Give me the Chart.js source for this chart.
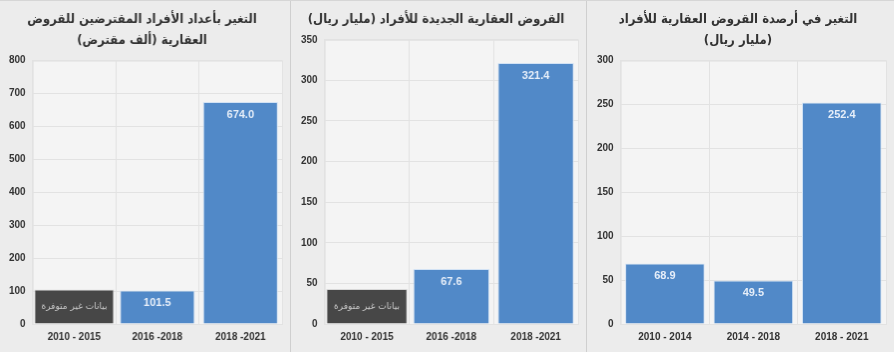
<!DOCTYPE html>
<html>
<head>
  <title>Real estate loans</title>
  <style>
    body { margin: 0; background: #ececec; }
    #wrap { position: relative; width: 894px; height: 352px; border-top: 1px solid #d6d6d6; box-sizing: border-box; }
    canvas { position: absolute; top: 0; }
    #c1 { left: 0; border-right: 1px solid #cfcfcf; }
    #c2 { left: 292px; border-right: 1px solid #cfcfcf; }
    #c3 { left: 588px; }
  </style>
</head>
<body>
  <div id="wrap">
    <canvas id="c1" width="291" height="351"></canvas>
    <canvas id="c2" width="295" height="351"></canvas>
    <canvas id="c3" width="306" height="351"></canvas>
  </div>
  <script src="https://cdn.jsdelivr.net/npm/chart.js@4.4.0/dist/chart.umd.min.js"></script>

  <script>
    // panel 1: borrowers (thousand)
    let labels1 = ['2010 - 2015', '2016 -2018', '2018 -2021'];
    let values1 = [null, 101.5, 674.0];
    let missing1 = [105, null, null];
    let title1 = ['التغير بأعداد الأفراد المقترضين للقروض', 'العقارية (ألف مقترض)'];

    // panel 2: new loans (billion riyal)
    let labels2 = ['2010 - 2015', '2016 -2018', '2018 -2021'];
    let values2 = [null, 67.6, 321.4];
    let missing2 = [43, null, null];
    let title2 = ['القروض العقارية الجديدة للأفراد (مليار ريال)'];

    // panel 3: balances (billion riyal)
    let labels3 = ['2010 - 2014', '2014 - 2018', '2018 - 2021'];
    let values3 = [68.9, 49.5, 252.4];
    let missing3 = [null, null, null];
    let title3 = ['التغير في أرصدة القروض العقارية للأفراد', '(مليار ريال)'];

    let missingText = 'بيانات غير متوفرة';

    let rtl = s => '\u202B' + s + '\u202C';
    let ltr = s => '\u202A' + s + '\u202C';

    let areaBg = {
      id: 'areaBg',
      beforeDraw(chart) {
        let a = chart.chartArea;
        let ctx = chart.ctx;
        ctx.save();
        ctx.fillStyle = '#f4f4f4';
        ctx.fillRect(a.left, a.top, a.right - a.left, a.bottom - a.top);
        ctx.strokeStyle = '#e2e2e2';
        ctx.strokeRect(a.left + 0.5, a.top + 0.5, a.right - a.left, a.bottom - a.top);
        ctx.restore();
      }
    };

    let barText = {
      id: 'barText',
      afterDatasetsDraw(chart) {
        let ctx = chart.ctx;
        ctx.save();
        ctx.textAlign = 'center';
        chart.data.datasets.forEach((ds, i) => {
          let meta = chart.getDatasetMeta(i);
          meta.data.forEach((bar, j) => {
            if (ds.data[j] == null) return;
            if (ds.isMissing) {
              ctx.fillStyle = '#c8c8c8';
              ctx.font = '9px "DejaVu Sans"';
              ctx.textBaseline = 'middle';
              ctx.fillText(rtl(missingText), bar.x, (bar.y + bar.base) / 2);
            } else {
              ctx.fillStyle = '#e6eef9';
              ctx.font = 'bold 11px "Liberation Sans"';
              ctx.textBaseline = 'top';
              ctx.fillText(ds.data[j].toFixed(1), bar.x, bar.y + 7);
            }
          });
        });
        ctx.restore();
      }
    };

    function makeChart(id, labels, values, missing, title, max, step) {
      let ctx = document.getElementById(id).getContext('2d');
      return new Chart(ctx, {
        type: 'bar',
        data: {
          labels: labels.map(ltr),
          datasets: [{
            data: values,
            backgroundColor: '#5189c8',
            borderColor: '#d2e2f4',
            borderWidth: 1,
            grouped: false,
            barPercentage: 0.9,
            categoryPercentage: 1.0
          }, {
            data: missing,
            isMissing: true,
            backgroundColor: '#474747',
            borderColor: '#d8d8d8',
            borderWidth: 1,
            grouped: false,
            barPercentage: 0.96,
            categoryPercentage: 1.0
          }]
        },
        options: {
          responsive: false,
          devicePixelRatio: 1,
          animation: false,
          layout: { padding: { left: 2, right: 8, top: 0, bottom: 2 } },
          plugins: {
            legend: { display: false },
            tooltip: { enabled: false },
            title: {
              display: true,
              text: title.map(rtl),
              color: '#333',
              font: { family: '"DejaVu Sans Condensed", "DejaVu Sans"', size: 13, weight: 'bold', lineHeight: 1.6 },
              padding: { top: 8, bottom: 10 }
            }
          },
          scales: {
            x: {
              grid: { color: '#e2e2e2', drawTicks: false },
              border: { color: '#e2e2e2' },
              ticks: { color: '#333', font: { family: 'Liberation Sans', size: 10, weight: 'bold' }, padding: 7 }
            },
            y: {
              min: 0,
              max: max,
              grid: { color: '#e2e2e2', drawTicks: false },
              border: { color: '#e2e2e2' },
              ticks: { stepSize: step, color: '#333', font: { family: 'Liberation Sans', size: 10, weight: 'bold' }, padding: 7 }
            }
          }
        },
        plugins: [areaBg, barText]
      });
    }

    makeChart('c1', labels1, values1, missing1, title1, 800, 100);
    makeChart('c2', labels2, values2, missing2, title2, 350, 50);
    makeChart('c3', labels3, values3, missing3, title3, 300, 50);
  </script>
</body>
</html>
